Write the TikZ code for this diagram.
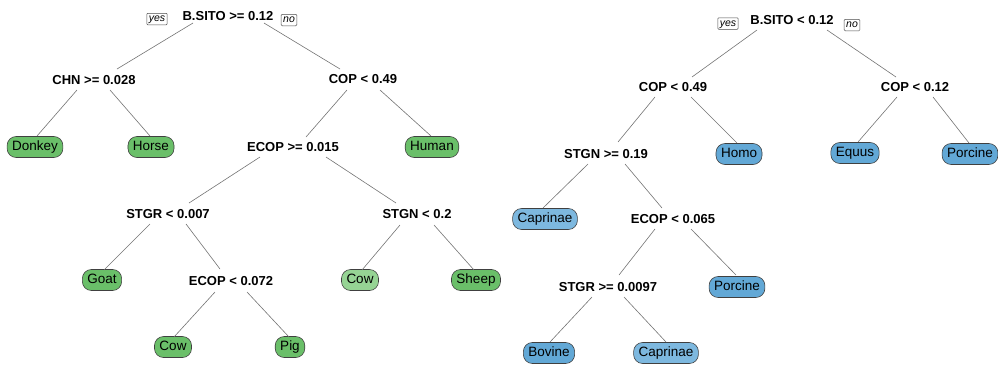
\documentclass[tikz,border=0pt]{standalone}
\usepackage{fontspec}
\setmainfont{Liberation Sans}
\usetikzlibrary{calc}
\definecolor{gA}{HTML}{6ABF69}
\definecolor{gB}{HTML}{96D494}
\definecolor{bA}{HTML}{62A8D6}
\definecolor{bB}{HTML}{7DB8DF}
\begin{document}
\begin{tikzpicture}[x=1pt,y=-1pt,
  split/.style={font=\fontsize{13}{15}\selectfont\bfseries, inner sep=0pt},
  leaf/.style={draw=black!75, line width=0.6pt, rounded corners=9pt, minimum height=21pt, inner xsep=5pt, inner ysep=0pt, font=\fontsize{13.5}{15}\selectfont, text height=9.5pt, text depth=2.5pt},
  yn/.style={draw=black!70, line width=0.5pt, rounded corners=1pt, font=\fontsize{10.5}{12}\selectfont\itshape, inner xsep=2pt, inner ysep=1pt, text height=7.5pt, text depth=2pt},
  edge/.style={draw=black!55, line width=0.6pt}]
\useasboundingbox (0,0) rectangle (998,365);
% ---------- tree 1 ----------
\node[split] (r1) at (228,16) {B.SITO >= 0.12};
\node[yn] (yes1) at (157,19) {yes};
\node[yn] (no1) at (289,20) {no};
\node[split] (chn) at (94,80) {CHN >= 0.028};
\node[split] (cop1) at (363,79) {COP < 0.49};
\node[leaf, fill=gA] (donkey) at (35,147) {Donkey};
\node[leaf, fill=gA] (horse) at (151,147) {Horse};
\node[split] (ecop1) at (293,147) {ECOP >= 0.015};
\node[leaf, fill=gA] (human) at (432,147) {Human};
\node[split] (stgr1) at (168,214) {STGR < 0.007};
\node[split] (stgn1) at (417,214) {STGN < 0.2};
\node[leaf, fill=gA] (goat) at (102,280) {Goat};
\node[split] (ecop2) at (231,281) {ECOP < 0.072};
\node[leaf, fill=gB] (cow1) at (360,280) {Cow};
\node[leaf, fill=gA] (sheep) at (476,280) {Sheep};
\node[leaf, fill=gA] (cow2) at (173,347) {Cow};
\node[leaf, fill=gA] (pig) at (290,347) {Pig};
\draw[edge] ($(r1)+(-35,7)$) -- ($(chn)+(23,-11)$);
\draw[edge] ($(r1)+(36,7)$) -- ($(cop1)+(-23,-10)$);
\draw[edge] ($(chn)+(-17,10)$) -- ($(donkey)+(2,-11)$);
\draw[edge] ($(chn)+(16,10)$) -- ($(horse)+(-1,-11)$);
\draw[edge] ($(cop1)+(-16,11)$) -- ($(ecop1)+(13,-10)$);
\draw[edge] ($(cop1)+(17,11)$) -- ($(human)+(-1,-11)$);
\draw[edge] ($(ecop1)+(-33,10)$) -- ($(stgr1)+(21,-11)$);
\draw[edge] ($(ecop1)+(33,10)$) -- ($(stgn1)+(-21,-11)$);
\draw[edge] ($(stgr1)+(-18,10)$) -- ($(goat)+(2,-10)$);
\draw[edge] ($(stgr1)+(18,10)$) -- ($(ecop2)+(-11,-12)$);
\draw[edge] ($(stgn1)+(-17,11)$) -- ($(cow1)+(2,-10)$);
\draw[edge] ($(stgn1)+(17,11)$) -- ($(sheep)+(-2,-10)$);
\draw[edge] ($(ecop2)+(-16,11)$) -- ($(cow2)+(1,-10)$);
\draw[edge] ($(ecop2)+(16,11)$) -- ($(pig)+(-1,-10)$);
% ---------- tree 2 ----------
\node[split] (r2) at (792,20) {B.SITO < 0.12};
\node[yn] (yes2) at (728,23.5) {yes};
\node[yn] (no2) at (852,25) {no};
\node[split] (cop2) at (673,87) {COP < 0.49};
\node[split] (cop3) at (915,87) {COP < 0.12};
\node[split] (stgn2) at (606,154) {STGN >= 0.19};
\node[leaf, fill=bA] (homo) at (739,154) {Homo};
\node[leaf, fill=bA] (equus) at (855,153) {Equus};
\node[leaf, fill=bA] (porc1) at (970,154) {Porcine};
\node[leaf, fill=bB] (capr1) at (545,219) {Caprinae};
\node[split] (ecop3) at (673,219) {ECOP < 0.065};
\node[split] (stgr2) at (608,287) {STGR >= 0.0097};
\node[leaf, fill=bA] (porc2) at (737,287) {Porcine};
\node[leaf, fill=bA] (bov) at (549,353) {Bovine};
\node[leaf, fill=bB] (capr2) at (666,353) {Caprinae};
\draw[edge] ($(r2)+(-35,10)$) -- ($(cop2)+(19,-10)$);
\draw[edge] ($(r2)+(35,10)$) -- ($(cop3)+(-19,-10)$);
\draw[edge] ($(cop2)+(-18,10)$) -- ($(stgn2)+(12,-12)$);
\draw[edge] ($(cop2)+(18,10)$) -- ($(homo)+(-2,-11)$);
\draw[edge] ($(cop3)+(-18,10)$) -- ($(equus)+(3,-11)$);
\draw[edge] ($(cop3)+(18,10)$) -- ($(porc1)+(-1,-11)$);
\draw[edge] ($(stgn2)+(-18,10)$) -- ($(capr1)+(-2,-11)$);
\draw[edge] ($(stgn2)+(19,10)$) -- ($(ecop3)+(-11,-11)$);
\draw[edge] ($(ecop3)+(-18,10)$) -- ($(stgr2)+(11,-12)$);
\draw[edge] ($(ecop3)+(18,10)$) -- ($(porc2)+(-1,-12)$);
\draw[edge] ($(stgr2)+(-16,10)$) -- ($(bov)+(1,-11)$);
\draw[edge] ($(stgr2)+(16,10)$) -- ($(capr2)+(0,-11)$);
\end{tikzpicture}
\end{document}
